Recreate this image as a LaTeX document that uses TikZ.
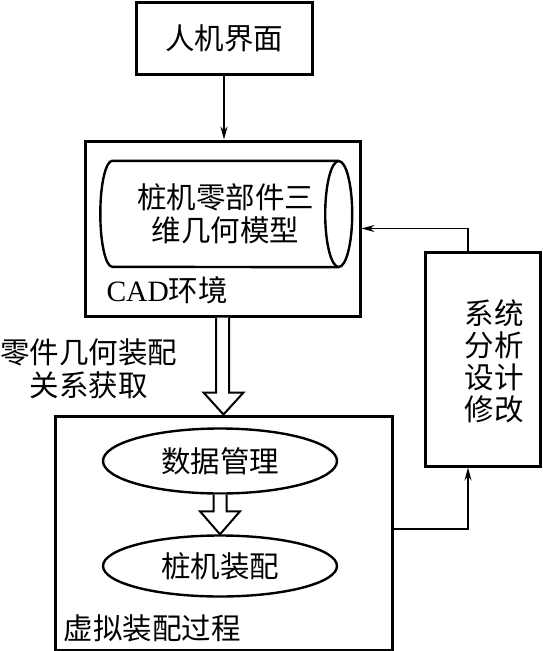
\documentclass[tikz,border=0pt]{standalone}
\usepackage{fontspec}
\setmainfont{Liberation Serif}
\newfontfamily\cjkfont{Noto Sans CJK SC}
\usetikzlibrary{arrows.meta, positioning, shapes.geometric, calc}

\begin{document}
\begin{tikzpicture}[x=1pt, y=1pt,
    box/.style={rectangle, draw, line width=3pt, inner sep=0pt},
    conn/.style={line width=1.4pt, -{Stealth[length=13pt, width=7pt]}},
    hollow/.style={draw, line width=2pt, fill=white, line join=miter},
    outline/.style={draw, line width=2.4pt},
    txt/.style={font=\fontsize{29.5}{33}\selectfont\cjkfont, align=center}]
  \useasboundingbox (0,0) rectangle (542,-651);

  % CAD side
  \node[box, txt, minimum width=176, minimum height=72] (ui) at (224,-38) {人机界面};
  \node[box, minimum width=275, minimum height=175] (cad) at (222.5,-228.5) {};
  \node[txt, minimum width=226, minimum height=106, inner sep=0pt] (model) at (225.5,-214)
        {桩机零部件三\\维几何模型};
  % cylinder round the model text
  \draw[outline] (model.north east) -- (model.north west)
        arc[start angle=90, end angle=270, x radius=12, y radius=53]
        -- (model.south east);
  \draw[outline] (model.east) ellipse[x radius=13.5, y radius=53];
  \node[txt, anchor=west] (cadlbl) at (103,-290) {{\rmfamily CAD}环境};

  % analysis box
  \node[box, minimum width=115, minimum height=214] (sys) at (482.5,-359) {};
  \node[txt, font=\fontsize{29.5}{32}\selectfont\cjkfont] (systxt) at (494,-361)
        {系统\\分析\\设计\\修改};

  % virtual assembly
  \node[box, minimum width=337, minimum height=234] (va) at (223.5,-533) {};
  \node[ellipse, outline, minimum width=234, minimum height=65, txt]
        (data) at (220,-461) {数据管理};
  \node[ellipse, outline, minimum width=234, minimum height=61, txt]
        (asm) at (220,-566) {桩机装配};
  \node[txt, anchor=west] (valbl) at (60,-628) {虚拟装配过程};
  \node[txt] (getlbl) at (89,-369) {零件几何装配\\关系获取};

  % connectors
  \draw[conn] (ui.south) -- (ui.south |- cad.north);
  \draw[conn] ([xshift=-14.5]sys.north) |- (cad.east);
  \draw[conn] ([yshift=4]va.east) -| ([xshift=-14.5]sys.south);
  \draw[hollow] ([xshift=-6.5]cad.south) |- ($(va.north)+(-20,22)$) -- (va.north)
        -- ($(va.north)+(20,22)$) -| ([xshift=6.5]cad.south);
  \draw[hollow] ([xshift=-6.5]data.south) |- ($(asm.north)+(-20,23)$) -- (asm.north)
        -- ($(asm.north)+(20,23)$) -| ([xshift=6.5]data.south);
\end{tikzpicture}
\end{document}
